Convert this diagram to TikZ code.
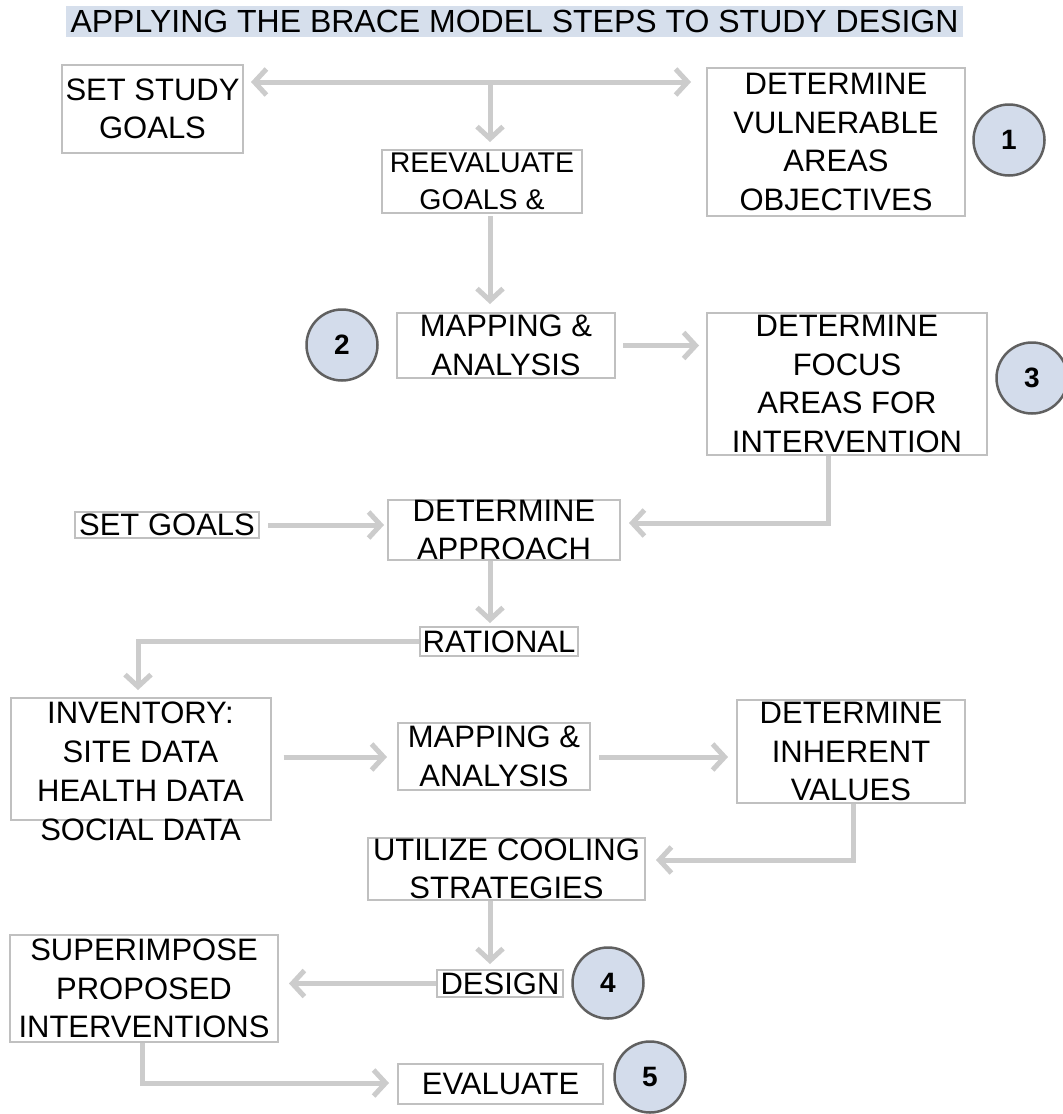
\documentclass[tikz,border=0pt]{standalone}
\usepackage{fontspec}
\setmainfont{Liberation Sans}
\newfontfamily\titlefont{Liberation Sans}
\usetikzlibrary{arrows.meta}
\definecolor{boxgray}{HTML}{C0C0C0}
\definecolor{linegray}{HTML}{CCCCCC}
\definecolor{circfill}{HTML}{D3DCEB}
\definecolor{circline}{HTML}{606060}
\definecolor{titlebg}{HTML}{D6DFEC}
\begin{document}
\begin{tikzpicture}[x=1pt,y=-1pt,
 box/.style={draw=boxgray, line width=2pt, fill=white, inner sep=0pt, align=center, font=\fontsize{31}{38.5}\selectfont},
 boxtext/.style={inner sep=0pt, align=center, font=\fontsize{31}{39}\selectfont},
 >={Straight Barb[length=12pt,width=26pt]},
 conn/.style={draw=linegray, line width=5pt},
 num/.style={circle, draw=circline, line width=2.5pt, fill=circfill, minimum size=71pt, inner sep=0pt, font=\fontsize{28}{30}\selectfont\bfseries}]
\useasboundingbox (0,0) rectangle (1063,1114);
\fill[white] (0,0) rectangle (1063,1114);
% title
\node[fill=titlebg, minimum width=897pt, minimum height=31pt, inner sep=0pt, font=\titlefont\fontsize{32}{34}\selectfont] (title) at (514.5,21.5) {APPLYING THE BRACE MODEL STEPS TO STUDY DESIGN};
% boxes
\node[box, minimum width=181pt, minimum height=88pt] (goals) at (152.5,109) {SET STUDY\\GOALS};
\node[box, minimum width=258pt, minimum height=148pt] (vuln) at (836,142) {DETERMINE\\VULNERABLE\\AREAS\\OBJECTIVES};
\node[box, minimum width=200pt, minimum height=63pt, font=\fontsize{28.5}{37}\selectfont] (reeval) at (482,181.5) {REEVALUATE\\GOALS \&};
\node[box, minimum width=218pt, minimum height=65pt] (map1) at (506,345.5) {MAPPING \&\\ANALYSIS};
\node[box, minimum width=280pt, minimum height=142pt] (focus) at (847,384) {DETERMINE\\FOCUS\\AREAS FOR\\INTERVENTION};
\node[box, minimum width=184pt, minimum height=26pt] (setg) at (167,525) {SET GOALS};
\node[box, minimum width=232pt, minimum height=60pt] (appr) at (504,530) {DETERMINE\\APPROACH};
\node[box, minimum width=158pt, minimum height=29pt] (rat) at (499,641.5) {RATIONAL};
\node[box, minimum width=260pt, minimum height=122pt] (inv) at (140.5,759) {};
\node[boxtext] (invtext) at (140.5,771) {INVENTORY:\\SITE DATA\\HEALTH DATA\\SOCIAL DATA};
\node[box, minimum width=192pt, minimum height=67pt] (map2) at (494,756.5) {MAPPING \&\\ANALYSIS};
\node[box, minimum width=228pt, minimum height=103pt] (inh) at (851,751.5) {DETERMINE\\INHERENT\\VALUES};
\node[box, minimum width=277pt, minimum height=62pt] (util) at (506.5,869) {UTILIZE COOLING\\STRATEGIES};
\node[box, minimum width=126pt, minimum height=27pt] (design) at (500,983.5) {DESIGN};
\node[box, minimum width=268pt, minimum height=107pt] (sup) at (144,988.5) {SUPERIMPOSE\\PROPOSED\\INTERVENTIONS};
\node[box, minimum width=205pt, minimum height=40pt] (eval) at (500.5,1084) {EVALUATE};
% numbered circles
\node[num] (n1) at (1009,140) {1};
\node[num] (n2) at (342,345) {2};
\node[num] (n3) at (1032,378) {3};
\node[num] (n4) at (608,983) {4};
\node[num] (n5) at (650,1077) {5};
% connectors
\coordinate (j1) at (490,82);
\draw[conn,<->, shorten <=7pt, shorten >=15pt] (goals.east |- j1) -- (vuln.west |- j1);
\draw[conn,->, shorten >=7pt] (j1) -- (reeval.north -| j1);
\draw[conn,->, shorten <=2pt, shorten >=8pt] (reeval.south -| j1) -- (map1.north -| j1);
\draw[conn,->, shorten <=7pt, shorten >=7pt] (map1.east) -- (focus.west |- map1.east);
\coordinate (c3) at (828,523);
\draw[conn,->, shorten >=8pt] (focus.south -| c3) -- (c3) -- (appr.east |- c3);
\draw[conn,->, shorten <=8pt, shorten >=3pt] (setg.east) -- (appr.west |- setg.east);
\draw[conn,->, shorten >=3pt] (appr.south -| j1) -- (rat.north -| j1);
\coordinate (c5) at (138,641.5);
\draw[conn,->, shorten >=7pt] (rat.west) -- (c5) -- (inv.north -| c5);
\coordinate (c6a) at (0,757);
\draw[conn,->, shorten <=12pt, shorten >=10pt] (inv.east |- c6a) -- (map2.west |- c6a);
\draw[conn,->, shorten <=8pt, shorten >=8pt] (map2.east |- c6a) -- (inh.west |- c6a);
\coordinate (c6) at (853,860);
\draw[conn,->, shorten >=10pt] (inh.south -| c6) -- (c6) -- (util.east |- c6);
\draw[conn,->, shorten >=5pt] (util.south -| j1) -- (design.north -| j1);
\draw[conn,->, shorten >=10pt] (design.west) -- (sup.east |- design.west);
\coordinate (c7) at (142,1083);
\draw[conn,->, shorten >=8pt] (sup.south -| c7) -- (c7) -- (eval.west |- c7);
\end{tikzpicture}
\end{document}
